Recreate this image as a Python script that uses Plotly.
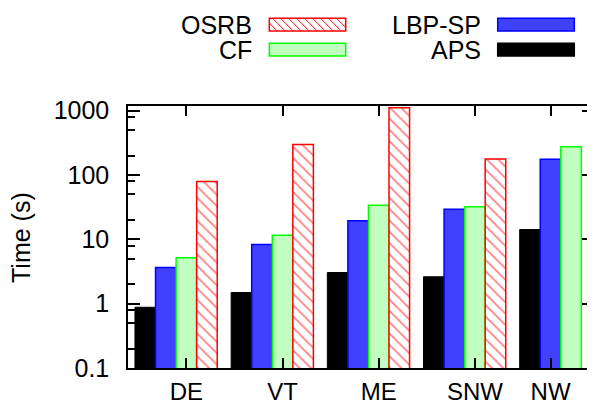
import plotly.graph_objects as go

categories = ["DE", "VT", "ME", "SNW", "NW"]
aps = [0.88, 1.49, 3.05, 2.62, 14.2]
lbp_sp = [3.65, 8.3, 19.4, 29.4, 176]
cf = [5.16, 11.6, 34, 32, 276]
osrb = [79, 297, 1110, 178, None]
y_tick_vals = [0.1, 1, 10, 100, 1000]
y_tick_text = ["0.1", "1", "10", "100", "1000"]

# the page body has an 8px default margin; work in screen pixels and shift
OFF = 8
W, H = 595 - OFF, 404 - OFF
L, R, T, B = 128 - OFF, 594 - OFF, 106 - OFF, 368 - OFF
FONT = "Liberation Sans, Arial, sans-serif"
FS = 25

bargap = 0.145
n_series = 4
bw = (1 - bargap) / n_series
xs = list(range(len(categories)))

fig = go.Figure()
fig.add_trace(go.Bar(x=xs, y=aps, name="APS", marker=dict(color="#000000", line=dict(color="#000000", width=1))))
fig.add_trace(go.Bar(x=xs, y=lbp_sp, name="LBP-SP", marker=dict(color="#4040ff", line=dict(color="#0000ff", width=1.5))))
fig.add_trace(go.Bar(x=xs, y=cf, name="CF", marker=dict(color="#c0ffc0", line=dict(color="#00ff00", width=1.5))))
fig.add_trace(go.Bar(x=xs, y=osrb, name="OSRB",
                     marker=dict(color="#ffffff", line=dict(color="#ff0000", width=1.5),
                                 pattern=dict(shape="\\", fgcolor="#ff0000", bgcolor="#ffffff", size=8, solidity=0.22))))

# tick label positions (gnuplot-style: under the second-to-last present bar)
tickvals = []
for i in xs:
    present = sum(1 for s in (aps, lbp_sp, cf, osrb) if s[i] is not None)
    slot = present - 2
    tickvals.append(i + (slot - (n_series - 1) / 2) * bw)

minor_vals = []
for d in [0.1, 1, 10, 100]:
    for m in (2, 5, 8):
        minor_vals.append(m * d)

fig.update_layout(
    width=W, height=H,
    margin=dict(l=L, r=W - R, t=T, b=H - B, autoexpand=False),
    paper_bgcolor="white", plot_bgcolor="white",
    barmode="group", bargap=bargap, bargroupgap=0,
    showlegend=False,
    font=dict(family=FONT, size=FS, color="black"),
    xaxis=dict(type="linear", range=[-0.5, 4.345], tickvals=tickvals, ticktext=categories,
               ticks="inside", ticklen=10, tickwidth=1.5, tickcolor="black",
               showline=True, linecolor="black", linewidth=1.5, mirror="ticks",
               showgrid=False, zeroline=False, ticklabelstandoff=1,
               tickfont=dict(family=FONT, size=24)),
    yaxis=dict(type="log", range=[-1, 3.073], tickvals=y_tick_vals, ticktext=y_tick_text,
               ticks="inside", ticklen=12, tickwidth=1.5, tickcolor="black",
               showline=True, linecolor="black", linewidth=1.5, mirror="ticks",
               showgrid=False, zeroline=False, ticklabelstandoff=12,
               tickfont=dict(family=FONT, size=FS),
               minor=dict(tickvals=minor_vals, ticks="inside", ticklen=7, tickwidth=1.5, tickcolor="black", showgrid=False)),
)

# conversions from reference screen pixels to paper coordinates
def px(xp):
    return (xp - OFF - L) / (R - L)

def py(yp):
    return (B - (yp - OFF)) / (B - T)

# y axis title
fig.add_annotation(text="Time (s)", xref="paper", yref="paper", x=px(21), y=py(238),
                   textangle=-90, showarrow=False, xanchor="center", yanchor="middle",
                   font=dict(family=FONT, size=FS))

# manual legend
legend_items = [
    ("OSRB", 253, 269.3, 345.7, 18.3, 31.0, "#ffffff", "#ff0000", True),
    ("CF", 253, 269.3, 345.7, 43.3, 56.0, "#c0ffc0", "#00ff00", False),
    ("LBP-SP", 482, 497.7, 574.3, 18.3, 31.0, "#4040ff", "#0000ff", False),
    ("APS", 482, 497.7, 574.3, 43.3, 56.0, "#000000", "#000000", False),
]
for name, tx, x0, x1, y0, y1, fillc, linec, hatch in legend_items:
    fig.add_annotation(text=name, xref="paper", yref="paper", x=px(tx), y=py((y0 + y1) / 2),
                       xanchor="right", yanchor="middle", showarrow=False, height=22, valign="middle",
                       borderpad=0, font=dict(family=FONT, size=FS))
    fig.add_shape(type="rect", xref="paper", yref="paper", x0=px(x0), x1=px(x1), y0=py(y1), y1=py(y0),
                  fillcolor=fillc, line=dict(color=linec, width=1.5), layer="above")
    if hatch:
        h = y1 - y0
        segs = []
        s = x0 - h
        step = 8
        while s < x1:
            ax, ay = s, y0
            bx, by = s + h, y1
            if ax < x0:
                ay = y0 + (x0 - ax)
                ax = x0
            if bx > x1:
                by = y1 - (bx - x1)
                bx = x1
            if bx > ax:
                segs.append(f"M {px(ax):.5f} {py(ay):.5f} L {px(bx):.5f} {py(by):.5f}")
            s += step
        fig.add_shape(type="path", xref="paper", yref="paper", path=" ".join(segs),
                      line=dict(color="#ff0000", width=1), layer="above")

fig.write_html("out.html")
